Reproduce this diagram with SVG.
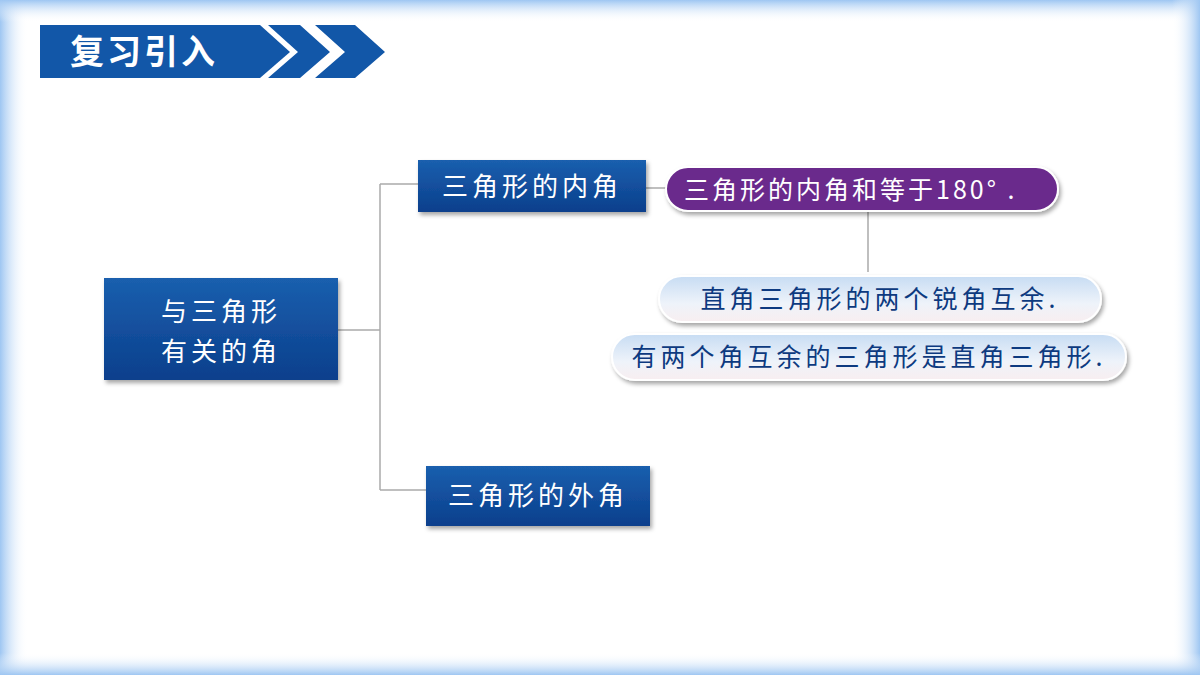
<svg xmlns="http://www.w3.org/2000/svg" width="1200" height="675" viewBox="0 0 1200 675">
<defs>
<linearGradient id="blue" x1="0" y1="0" x2="0" y2="1"><stop offset="0" stop-color="#1a5fae"/><stop offset="1" stop-color="#0b3f8c"/></linearGradient>
<linearGradient id="pale" x1="0" y1="0" x2="0" y2="1"><stop offset="0" stop-color="#c7dcf3"/><stop offset="0.6" stop-color="#eef3fa"/><stop offset="1" stop-color="#f8eef0"/></linearGradient>
<linearGradient id="fl" x1="0" y1="0" x2="1" y2="0"><stop offset="0" stop-color="#9ec6f2"/><stop offset="1" stop-color="#fff" stop-opacity="0"/></linearGradient>
<linearGradient id="ft" x1="0" y1="0" x2="0" y2="1"><stop offset="0" stop-color="#9ec6f2"/><stop offset="1" stop-color="#fff" stop-opacity="0"/></linearGradient>
<linearGradient id="fr" x1="1" y1="0" x2="0" y2="0"><stop offset="0" stop-color="#9ec6f2"/><stop offset="1" stop-color="#fff" stop-opacity="0"/></linearGradient>
<linearGradient id="fb" x1="0" y1="1" x2="0" y2="0"><stop offset="0" stop-color="#9ec6f2"/><stop offset="1" stop-color="#fff" stop-opacity="0"/></linearGradient>
<filter id="sh" x="-10%" y="-20%" width="120%" height="150%"><feDropShadow dx="2" dy="3" stdDeviation="2" flood-color="#000" flood-opacity="0.35"/></filter>
</defs>
<style>
.box{fill:url(#blue);filter:url(#sh)}
.wt{font-family:"Noto Sans CJK SC",sans-serif;fill:#fff;font-size:26px;letter-spacing:4px}
.bt{font-family:"Noto Sans CJK SC",sans-serif;fill:#0d3a80;font-size:25px;letter-spacing:4px}
.ln{stroke:#aaaaaa;stroke-width:1.5;fill:none}
.pill{fill:url(#pale);stroke:#fff;stroke-width:2;filter:url(#sh)}
</style>
<rect width="1200" height="675" fill="#fff"/>
<rect width="28" height="675" fill="url(#fl)"/>
<rect width="1200" height="22" fill="url(#ft)"/>
<rect x="1172" width="28" height="675" fill="url(#fr)"/>
<rect y="653" width="1200" height="22" fill="url(#fb)"/>
<g id="title">
<polygon points="40,25 260,25 290,52 260,78 40,78" fill="#1257a8"/>
<polygon points="268,25 300,25 330,52 300,78 268,78 298,52" fill="#1257a8"/>
<polygon points="315,25 355,25 385,52 355,78 315,78 345,52" fill="#1257a8"/>
<text x="70" y="64" font-family="Noto Sans CJK SC,sans-serif" font-weight="bold" font-size="34" fill="#fff" letter-spacing="3">复习引入</text>
</g>
<g id="connectors">
<path class="ln" d="M338,330 H380 M380,184 V490 M380,184 H420 M380,490 H426 M646,188 H668 M868,210 V272"/>
</g>
<g id="root"><rect class="box" x="104" y="278" width="234" height="102"/>
<text class="wt" x="221" y="321" text-anchor="middle">与三角形</text>
<text class="wt" x="221" y="361" text-anchor="middle">有关的角</text></g>
<g id="inner"><rect class="box" x="418" y="160" width="228" height="52"/>
<text class="wt" x="532" y="196" text-anchor="middle">三角形的内角</text></g>
<g id="outer"><rect class="box" x="426" y="466" width="224" height="60"/>
<text class="wt" x="538" y="505" text-anchor="middle">三角形的外角</text></g>
<g id="sum"><rect x="666" y="167" width="392" height="44" rx="22" fill="#6a2a8c" stroke="#fff" stroke-width="2" filter="url(#sh)"/>
<text x="684" y="199" font-family="Noto Sans CJK SC,sans-serif" fill="#fff" font-size="25" letter-spacing="3">三角形的内角和等于180°  .</text></g>
<g id="p1"><rect class="pill" x="659" y="276" width="442" height="46" rx="23"/>
<text class="bt" x="880" y="308" text-anchor="middle">直角三角形的两个锐角互余.</text></g>
<g id="p2"><rect class="pill" x="612" y="334" width="514" height="46" rx="23"/>
<text class="bt" x="869" y="366" text-anchor="middle">有两个角互余的三角形是直角三角形.</text></g>
</svg>
